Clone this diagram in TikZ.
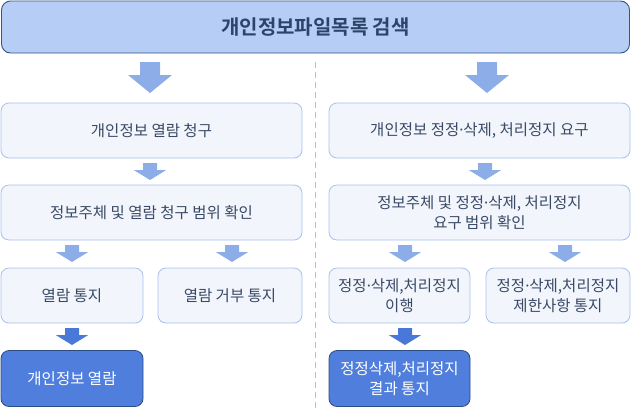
\documentclass[tikz,border=0pt]{standalone}
\usepackage{fontspec}
\setmainfont{Noto Sans CJK KR}
\newfontfamily\krbold{Noto Sans CJK KR}[BoldFont={* Bold}]
\newfontfamily\latinsans{Noto Sans}
\newcommand{\mdot}{{\latinsans·}}
\definecolor{titlefill}{HTML}{B6CDF6}
\definecolor{titledraw}{HTML}{34568A}
\definecolor{titletext}{HTML}{2C4468}
\definecolor{lightfill}{HTML}{F2F5FB}
\definecolor{lightdraw}{HTML}{A9C1EC}
\definecolor{bodytext}{HTML}{3A4A66}
\definecolor{darkfill}{HTML}{4F7EDC}
\definecolor{darkdraw}{HTML}{2C4C86}
\definecolor{arrowlight}{HTML}{8DADE8}
\definecolor{arrowdark}{HTML}{4A78D8}
\definecolor{dashcol}{HTML}{A8C0EC}
\newcommand{\blockarr}[6]{% color, xc, ytop, ybot, headhalf, shafthalf
  \fill[#1] ({#2-#6},#3) -- ({#2+#6},#3) -- ({#2+#6},{#3+0.42*(#4-#3)}) -- ({#2+#5},{#3+0.42*(#4-#3)})
   -- (#2,#4) -- ({#2-#5},{#3+0.42*(#4-#3)}) -- ({#2-#6},{#3+0.42*(#4-#3)}) -- cycle;}
\begin{document}
\begin{tikzpicture}[x=1pt,y=-1pt,
  lbox/.style={draw=lightdraw,fill=lightfill,rounded corners=8pt,line width=0.8pt,text=bodytext,font=\fontsize{15.5}{20}\selectfont,align=center},
  dbox/.style={draw=darkdraw,fill=darkfill,rounded corners=8pt,line width=0.8pt,text=white,font=\fontsize{15.5}{20}\selectfont,align=center}]
\useasboundingbox (0,0) rectangle (631,408);
% title
\node[draw=titledraw,fill=titlefill,rounded corners=9pt,line width=0.9pt,text=titletext,
  font=\krbold\bfseries\fontsize{20}{24}\selectfont,minimum width=628pt,minimum height=52pt] (title) at (315.5,27) {개인정보파일목록 검색};
% dashed divider
\draw[dashcol,dash pattern=on 6pt off 4pt,line width=0.8pt] (315.5,62) -- (315.5,408);
% big arrows
\blockarr{arrowlight}{150}{62}{93}{22}{10}
\blockarr{arrowlight}{487}{62}{93}{22}{10}
% left column
\node[lbox,minimum width=301pt,minimum height=55pt] (l1) at (151.5,130.5) {개인정보 열람 청구};
\node[lbox,minimum width=301pt,minimum height=55pt] (l2) at (151.5,212.5) {정보주체 및 열람 청구 범위 확인};
\node[lbox,minimum width=142pt,minimum height=55pt] (l3) at (72,295.5) {열람 통지};
\node[lbox,minimum width=144pt,minimum height=55pt] (l4) at (230,295.5) {열람 거부 통지};
\node[dbox,minimum width=142pt,minimum height=56pt] (l5) at (72,378.5) {개인정보 열람};
% right column
\node[lbox,minimum width=301pt,minimum height=55pt] (r1) at (479.5,130.5) {개인정보 정정\mdot 삭제, 처리정지 요구};
\node[lbox,minimum width=301pt,minimum height=55pt] (r2) at (479.5,212.5) {정보주체 및 정정\mdot 삭제, 처리정지\\요구 범위 확인};
\node[lbox,minimum width=141pt,minimum height=55pt] (r3) at (399.5,295.5) {정정\mdot 삭제,처리정지\\이행};
\node[lbox,minimum width=144pt,minimum height=55pt] (r4) at (558,295.5) {정정\mdot 삭제,처리정지\\제한사항 통지};
\node[dbox,minimum width=141pt,minimum height=56pt] (r5) at (399.5,378.5) {정정삭제,처리정지\\결과 통지};
% small arrows
\blockarr{arrowlight}{150}{163}{180}{16}{7}
\blockarr{arrowlight}{485}{163}{180}{16}{7}
\blockarr{arrowlight}{72}{245}{262}{16}{7}
\blockarr{arrowlight}{232}{245}{262}{16}{7}
\blockarr{arrowlight}{405}{245}{262}{16}{7}
\blockarr{arrowlight}{565}{245}{262}{16}{7}
\blockarr{arrowdark}{72}{328}{345}{16}{7}
\blockarr{arrowdark}{405}{328}{345}{16}{7}
\end{tikzpicture}
\end{document}
